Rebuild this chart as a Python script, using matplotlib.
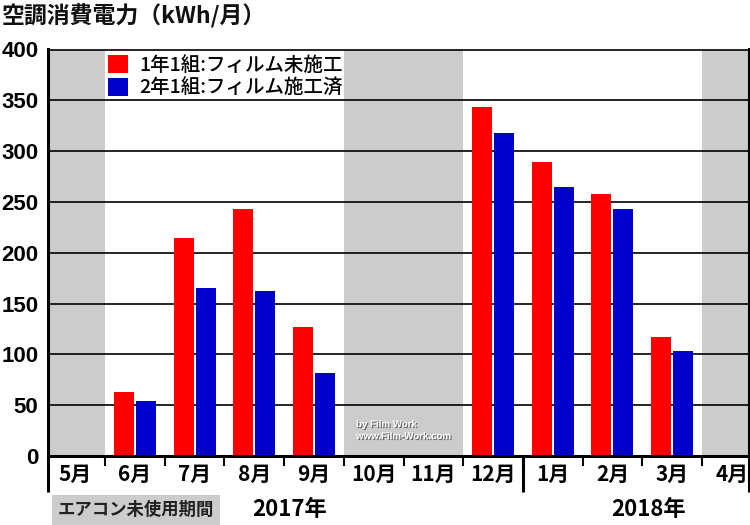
import matplotlib
matplotlib.use("Agg")
import matplotlib.pyplot as plt
import matplotlib.transforms as mtransforms
import matplotlib.patheffects as pe
from matplotlib.patches import Patch

plt.rcParams['font.family'] = ['Noto Sans CJK JP', 'DejaVu Sans']

# data
months = ['5月', '6月', '7月', '8月', '9月', '10月', '11月', '12月', '1月', '2月', '3月', '4月']
unused_months = ['5月', '10月', '11月', '4月']
bar_months = ['6月', '7月', '8月', '9月', '12月', '1月', '2月', '3月']
class1_no_film = [63, 215, 243, 127, 343, 289, 258, 117]
class2_film = [54, 165, 162, 82, 318, 265, 243, 103]
legend_labels = ['1年1組:フィルム未施工', '2年1組:フィルム施工済']
yticks = [0, 50, 100, 150, 200, 250, 300, 350, 400]

RED = '#ff0000'
BLUE = '#0000cc'
GRAY = '#cccccc'

fig = plt.figure(figsize=(7.5, 5.25), dpi=100)
ax = fig.add_axes([48 / 750, 1 - 456 / 525, 701 / 750, (456 - 49.5) / 525])

pos = {m: i for i, m in enumerate(months)}

for m in unused_months:
    ax.axvspan(pos[m] - 0.5, pos[m] + 0.5, color=GRAY, zorder=0.2, lw=0)

x = [pos[m] for m in bar_months]
w = 0.335
off = 0.184
ax.bar([v - off for v in x], class1_no_film, width=w, color=RED, zorder=1)
ax.bar([v + off for v in x], class2_film, width=w, color=BLUE, zorder=1)

# first and last month are cut a little at the frame
ax.set_xlim(-0.455, 11.287)
ax.set_ylim(0, 400)
ax.set_axisbelow(True)
ax.yaxis.grid(True, color='black', lw=1.2)

ax.set_yticks(yticks)
ax.set_yticklabels([str(t) for t in yticks], family='Liberation Sans',
                   fontweight='bold', fontsize=16)
ax.tick_params(axis='y', length=0, pad=7)

ax.set_xticks(range(len(months)))
ax.set_xticklabels(months, fontsize=15, fontweight='bold')
ax.set_xticks([i + 0.5 for i in range(len(months) - 1)], minor=True)
ax.tick_params(axis='x', which='major', length=0, pad=6)
ax.tick_params(axis='x', which='minor', length=7.5, width=1.5, direction='out')

for side in ['left', 'right', 'bottom']:
    ax.spines[side].set_linewidth(2.2)
ax.spines['top'].set_linewidth(1.2)

# long separators below the axis: frame edges and the year change
trans = mtransforms.blended_transform_factory(ax.transData, ax.transAxes)
ax.plot([7.5, 7.5], [0, -0.089], transform=trans, color='black', lw=2.2,
        clip_on=False, solid_capstyle='butt')
for xa in [0, 1]:
    ax.plot([xa, xa], [0, -0.089], transform=ax.transAxes, color='black', lw=2.2,
            clip_on=False, solid_capstyle='butt')

handles = [Patch(facecolor=RED), Patch(facecolor=BLUE)]
leg = ax.legend(handles, legend_labels, loc='upper left',
                bbox_to_anchor=(104 / 750, 1 - 51 / 525), bbox_transform=fig.transFigure,
                frameon=False, fontsize=14, handlelength=1.05, handleheight=1.05,
                handletextpad=0.55, labelspacing=0.2, borderpad=0.2, borderaxespad=0,
                prop={'weight': 'medium', 'size': 14})

fig.text(0.002, 1 - 16 / 525, '空調消費電力（kWh/月）', fontsize=16.5, fontweight='bold',
         va='center', ha='left', color='#111111')

fig.text(58 / 750, 1 - 510 / 525, 'エアコン未使用期間', fontsize=12.5, fontweight='bold',
         va='center', ha='left', color='#222222',
         bbox=dict(facecolor=GRAY, edgecolor='none', boxstyle='square,pad=0.35'))
fig.text(290 / 750, 1 - 510 / 525, '2017年', fontsize=16, fontweight='bold',
         va='center', ha='center')
fig.text(648 / 750, 1 - 510 / 525, '2018年', fontsize=16, fontweight='bold',
         va='center', ha='center')

shadow = [pe.withSimplePatchShadow(offset=(0.8, -0.8), shadow_rgbFace='#555555', alpha=0.9)]
fig.text(356 / 750, 1 - 424 / 525, 'by Film Work', fontsize=7, fontweight='bold',
         family='Liberation Sans', color='white', va='center', ha='left', path_effects=shadow)
fig.text(356 / 750, 1 - 436 / 525, 'www.Film-Work.com', fontsize=7, fontweight='bold',
         family='Liberation Sans', color='white', va='center', ha='left', path_effects=shadow)

fig.savefig('out.png', dpi=100)
